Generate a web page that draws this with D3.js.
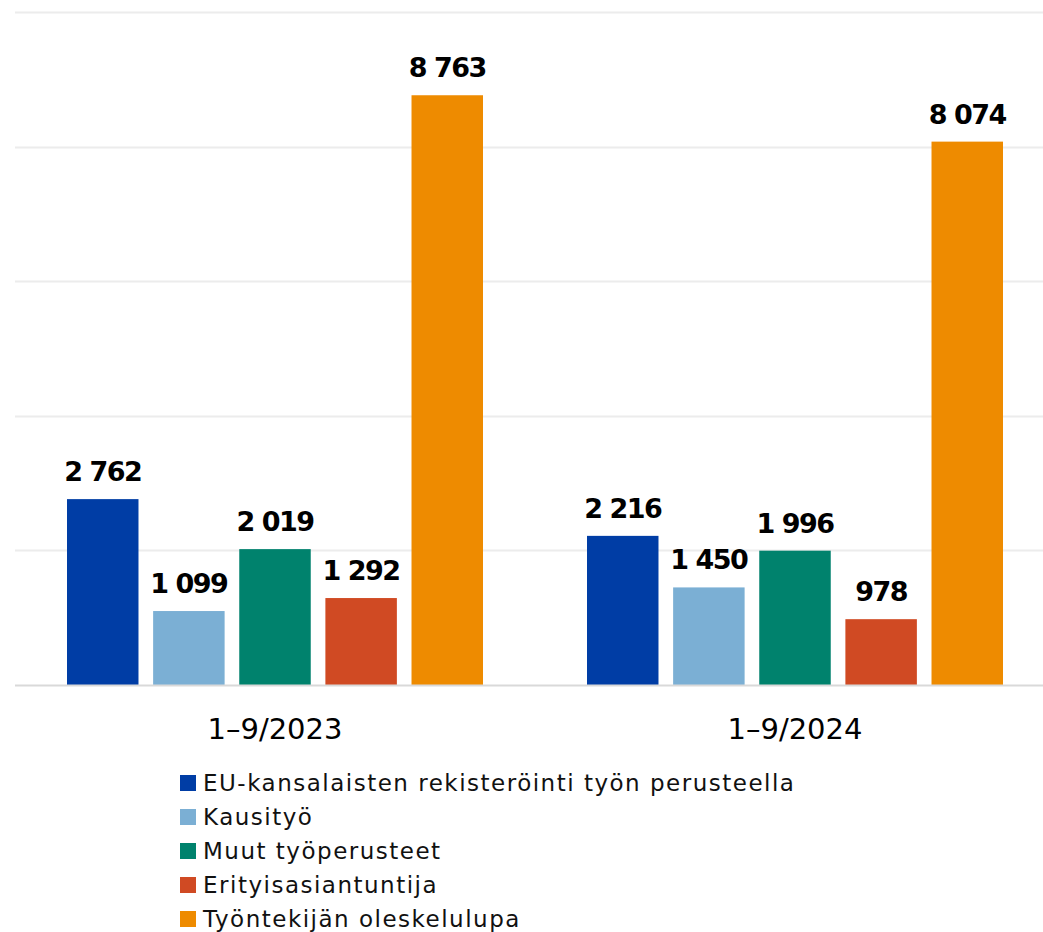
<!DOCTYPE html>
<html>
<head>
<meta charset="utf-8">
<script src="https://cdn.jsdelivr.net/npm/d3@7"></script>
<style>
  body { margin: 0; background: #fff; }
  svg { display: block; font-family: 'DejaVu Sans', sans-serif; }
</style>
</head>
<body>
<div class="chart"></div>
<script>
const periods = ['1–9/2023', '1–9/2024'];
const seriesNames = [
  'EU-kansalaisten rekisteröinti työn perusteella',
  'Kausityö',
  'Muut työperusteet',
  'Erityisasiantuntija',
  'Työntekijän oleskelulupa',
];
const values2023 = [2762, 1099, 2019, 1292, 8763];
const values2024 = [2216, 1450, 1996, 978, 8074];
const gridTicks = [0, 2000, 4000, 6000, 8000, 10000];

const colorList = ['#003DA5', '#7BAFD4', '#00826D', '#D04A23', '#EE8B00'];

const width = 1043;
const height = 932;
const margin = { top: 12, right: -12, bottom: 247, left: 15 };

const svg = d3
  .select('.chart')
  .append('svg')
  .attr('width', width)
  .attr('height', height);

const x0 = d3
  .scaleBand()
  .domain(periods)
  .range([margin.left, width - margin.right])
  .paddingInner(0.2)
  .paddingOuter(0.1);

const x1 = d3
  .scaleBand()
  .domain(seriesNames)
  .range([0, x0.bandwidth()])
  .paddingInner(0.17);

const y = d3
  .scaleLinear()
  .domain([0, 10000])
  .range([height - margin.bottom, margin.top]);

const colors = d3.scaleOrdinal().domain(seriesNames).range(colorList);

// gridlines
svg
  .append('g')
  .selectAll('line')
  .data(gridTicks.slice(1))
  .join('line')
  .attr('x1', margin.left)
  .attr('x2', width)
  .attr('y1', (d) => Math.round(y(d)) + 0.5)
  .attr('y2', (d) => Math.round(y(d)) + 0.5)
  .attr('stroke', '#ececec')
  .attr('stroke-width', 2);

const rows = periods.map((p, i) => ({
  period: p,
  values: (i === 0 ? values2023 : values2024).map((v, j) => ({ name: seriesNames[j], value: v })),
}));

const groups = svg
  .append('g')
  .selectAll('g')
  .data(rows)
  .join('g')
  .attr('transform', (d) => `translate(${x0(d.period)},0)`);

groups
  .selectAll('rect')
  .data((d) => d.values)
  .join('rect')
  .attr('x', (d) => x1(d.name))
  .attr('y', (d) => y(d.value))
  .attr('width', x1.bandwidth())
  .attr('height', (d) => y(0) - y(d.value))
  .attr('fill', (d) => colors(d.name));

const fmt = (v) => d3.format(',')(v).replace(/,/g, ' ');

groups
  .selectAll('text')
  .data((d) => d.values)
  .join('text')
  .attr('x', (d) => x1(d.name) + x1.bandwidth() / 2)
  .attr('y', (d) => y(d.value) - 18)
  .attr('text-anchor', 'middle')
  .style('font-size', '27px')
  .style('font-weight', 'bold')
  .style('letter-spacing', '-1.5px')
  .attr('fill', '#000')
  .text((d) => fmt(d.value));

// baseline
svg
  .append('line')
  .attr('x1', margin.left)
  .attr('x2', width)
  .attr('y1', y(0) + 0.5)
  .attr('y2', y(0) + 0.5)
  .attr('stroke', '#d9d9d9')
  .attr('stroke-width', 2);

// category labels
svg
  .append('g')
  .selectAll('text')
  .data(periods)
  .join('text')
  .attr('x', (d) => x0(d) + x0.bandwidth() / 2)
  .attr('y', 739)
  .attr('text-anchor', 'middle')
  .style('font-size', '29px')
  .attr('fill', '#000')
  .text((d) => d);

// legend
const legend = svg
  .append('g')
  .attr('transform', 'translate(180, 783)');

const items = legend
  .selectAll('g')
  .data(seriesNames)
  .join('g')
  .attr('transform', (d, i) => `translate(0, ${i * 34})`);

items
  .append('rect')
  .attr('x', 0)
  .attr('y', -8)
  .attr('width', 16)
  .attr('height', 16)
  .attr('fill', (d) => colors(d));

items
  .append('text')
  .attr('x', 23)
  .attr('y', 8)
  .style('font-size', '23px')
  .style('letter-spacing', '1.5px')
  .attr('fill', '#111')
  .text((d) => d);
</script>
</body>
</html>
